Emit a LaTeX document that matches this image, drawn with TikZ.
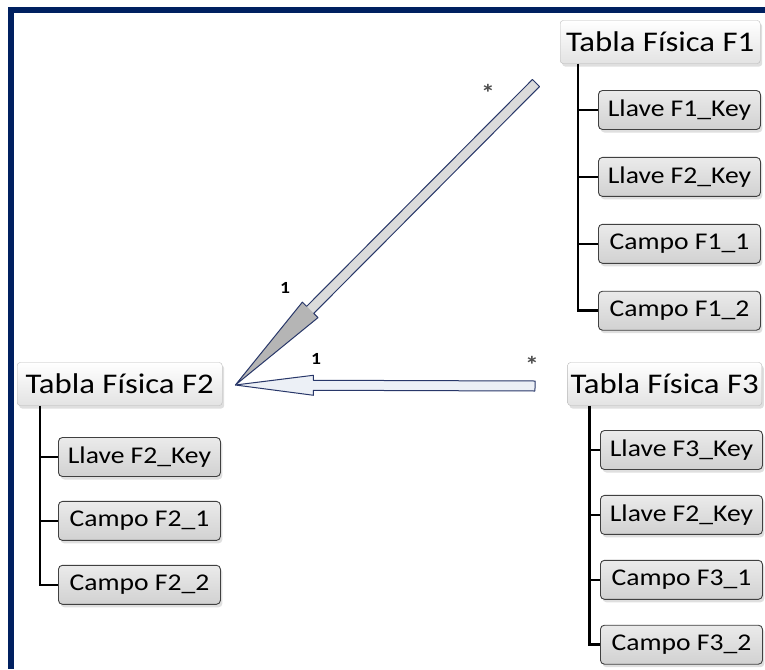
\documentclass[tikz,border=0pt]{standalone}
\usepackage{fontspec}
\setmainfont[FakeStretch=1.15]{Carlito}
\usetikzlibrary{positioning,calc,shadows}

\definecolor{frameblue}{RGB}{0,32,96}
\definecolor{arrowline}{RGB}{40,55,105}
\definecolor{shaftfill}{RGB}{236,240,246}

\tikzset{
  tabla/.style={draw=gray!55, rounded corners=3pt, top color=white, bottom color=gray!22,
    inner xsep=3pt, minimum height=43pt, font=\fontsize{28.5}{31}\selectfont,
    drop shadow={shadow xshift=2pt, shadow yshift=-3pt, fill=black!25}},
  campo/.style={draw=black!75, line width=0.9pt, rounded corners=4pt, top color=gray!16,
    bottom color=gray!36, minimum width=162pt, minimum height=39pt, inner xsep=3pt,
    font=\fontsize{24}{27}\selectfont,
    drop shadow={shadow xshift=2pt, shadow yshift=-3pt, fill=black!25}},
  rama/.style={line width=2.5pt},
  flecha/.style={draw=arrowline, line width=1pt, line join=round},
  mult/.style={font=\fontsize{17}{19}\selectfont\bfseries},
  estrella/.style={text=black!70, font=\fontsize{24}{26}\selectfont\bfseries}
}

\begin{document}
\begin{tikzpicture}[x=1pt, y=-1pt]
    \useasboundingbox (0,0) rectangle (765,669);
    \fill[frameblue] (8,7) rectangle (765,13);
    \fill[frameblue] (8,7) rectangle (14,669);

    \node[tabla, anchor=west, minimum width=200pt] (f1) at (560,42) {Tabla Física F1};
    \node[campo, anchor=west] (f1a) at (598,110) {Llave F1\_Key};
    \node[campo, below=27pt of f1a] (f1b) {Llave F2\_Key};
    \node[campo, below=27pt of f1b] (f1c) {Campo F1\_1};
    \node[campo, below=27pt of f1c] (f1d) {Campo F1\_2};
    \draw[rama] ([xshift=18pt]f1.south west) coordinate (r1) |- (f1d.west)
        (r1 |- f1a.west) -- (f1a.west) (r1 |- f1b.west) -- (f1b.west)
        (r1 |- f1c.west) -- (f1c.west);

    \node[tabla, anchor=west, minimum width=205pt] (f2) at (17,384) {Tabla Física F2};
    \node[campo, anchor=west] (f2a) at (58,457) {Llave F2\_Key};
    \node[campo, below=24pt of f2a] (f2b) {Campo F2\_1};
    \node[campo, below=24pt of f2b] (f2c) {Campo F2\_2};
    \draw[rama] ([xshift=23pt]f2.south west) coordinate (r2) |- (f2c.west)
        (r2 |- f2a.west) -- (f2a.west) (r2 |- f2b.west) -- (f2b.west);

    \node[tabla, anchor=east, minimum width=194pt] (f3) at (762,384) {Tabla Física F3};
    \node[campo, anchor=west] (f3a) at (600,450) {Llave F3\_Key};
    \node[campo, below=25pt of f3a] (f3b) {Llave F2\_Key};
    \node[campo, below=25pt of f3b] (f3c) {Campo F3\_1};
    \node[campo, below=25pt of f3c] (f3d) {Campo F3\_2};
    \draw[rama] ([xshift=22pt]f3.south west) coordinate (r3) |- (f3d.west)
        (r3 |- f3a.west) -- (f3a.west) (r3 |- f3b.west) -- (f3b.west)
        (r3 |- f3c.west) -- (f3c.west);

    \coordinate (punta) at ([xshift=13pt,yshift=-1pt]f2.east);
    \coordinate (cola1) at (536,83);
    \coordinate (cola3) at (535,386);
    \coordinate (base1) at ($(punta)!106pt!(cola1)$);
    \coordinate (base3) at ($(punta)!78pt!(cola3)$);

    \fill[gray!28] ($(cola1)!5pt!90:(punta)$) -- ($(base1)!5pt!90:(punta)$)
        -- ($(base1)!5pt!-90:(punta)$) -- ($(cola1)!5pt!-90:(punta)$) -- cycle;
    \fill[gray!58] ($(base1)!11pt!90:(punta)$) -- (punta)
        -- ($(base1)!11pt!-90:(punta)$) -- cycle;
    \draw[flecha] ($(cola1)!5pt!90:(punta)$) -- ($(base1)!5pt!90:(punta)$)
        -- ($(base1)!11pt!90:(punta)$) -- (punta) -- ($(base1)!11pt!-90:(punta)$)
        -- ($(base1)!5pt!-90:(punta)$) -- ($(cola1)!5pt!-90:(punta)$) -- cycle;

    \filldraw[flecha, fill=shaftfill] ($(cola3)!5pt!90:(punta)$) -- ($(base3)!5pt!90:(punta)$)
        -- ($(base3)!10pt!90:(punta)$) -- (punta) -- ($(base3)!10pt!-90:(punta)$)
        -- ($(base3)!5pt!-90:(punta)$) -- ($(cola3)!5pt!-90:(punta)$) -- cycle;

    \node[estrella] (m1) at (488,93) {*};
    \node[mult] (m2) at (285,288) {1};
    \node[mult] (m3) at (316,359) {1};
    \node[estrella] (m4) at (532,365) {*};
\end{tikzpicture}
\end{document}
